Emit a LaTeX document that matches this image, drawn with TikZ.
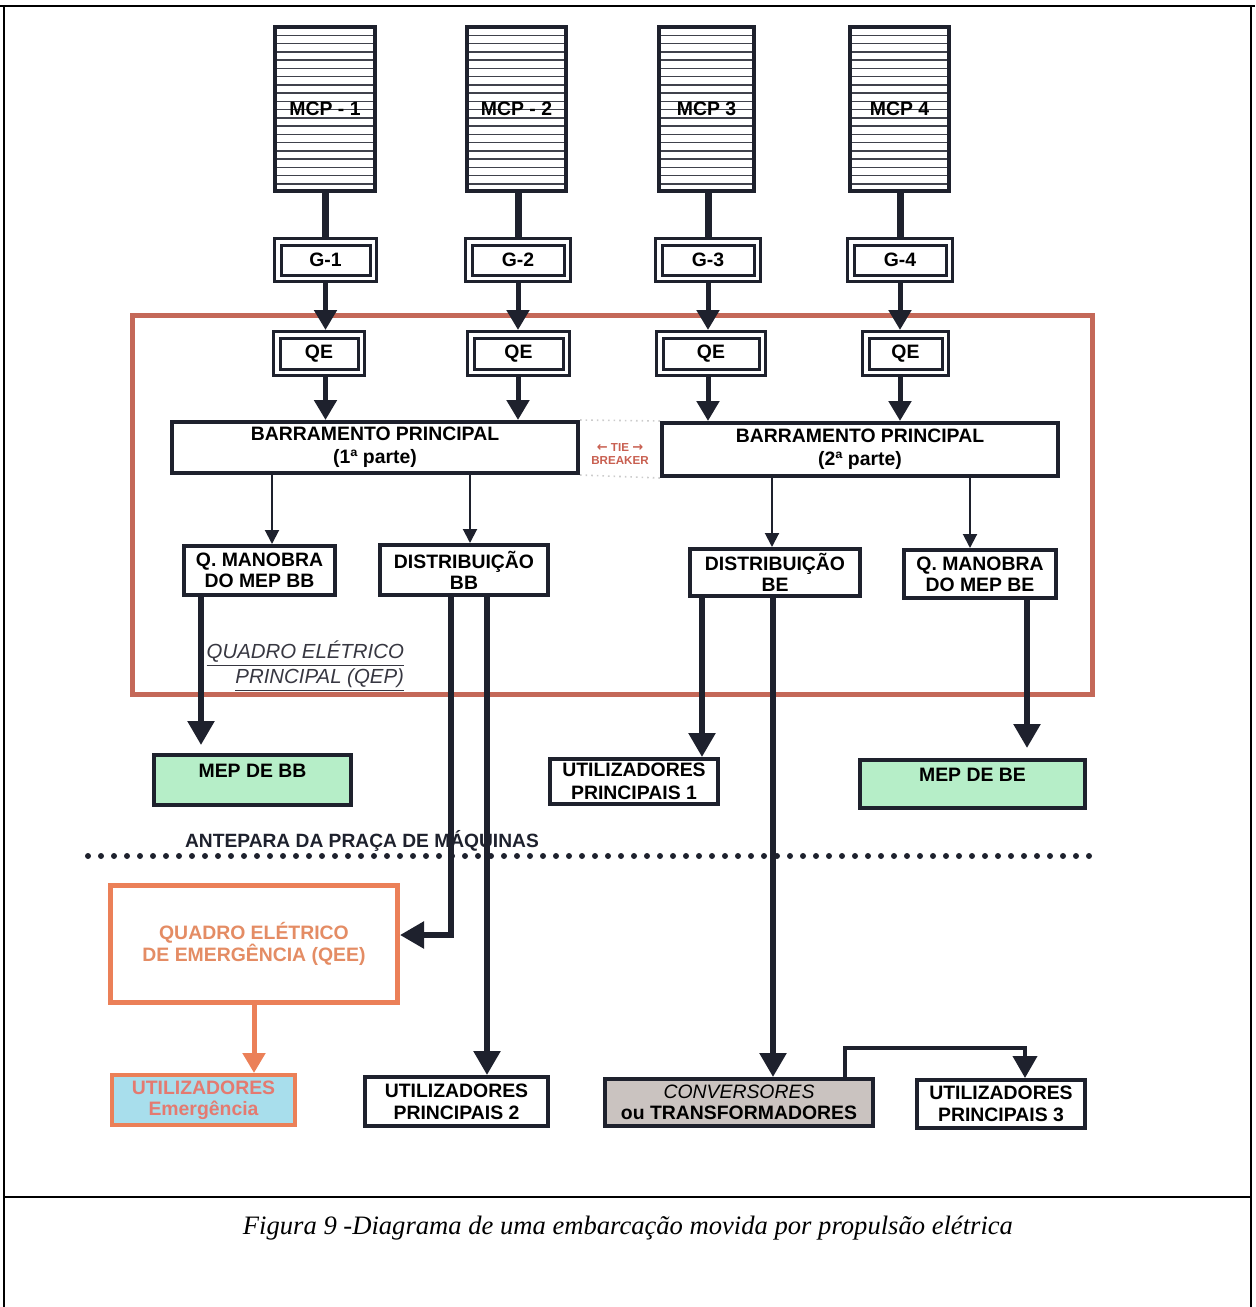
\documentclass[tikz,border=0pt]{standalone}
\usepackage{fontspec}
\setmainfont{Liberation Serif}
\newfontfamily\arialf{Liberation Sans}
\newfontfamily\arrowf{DejaVu Sans}
\usetikzlibrary{arrows.meta}
\definecolor{ink}{RGB}{30,33,45}
\definecolor{qepred}{RGB}{196,104,88}
\definecolor{qeeor}{RGB}{235,128,88}
\definecolor{qeetxt}{RGB}{228,140,100}
\definecolor{emfill}{RGB}{168,222,236}
\definecolor{emtxt}{RGB}{228,122,112}
\definecolor{mepgreen}{RGB}{182,238,200}
\definecolor{convgray}{RGB}{202,195,192}
\definecolor{tiecol}{RGB}{200,95,80}
\definecolor{labgray}{RGB}{55,55,65}
\begin{document}
\begin{tikzpicture}[x=0.5pt,y=-0.5pt,
  sz/.style 2 args={minimum width=#1*0.5pt,minimum height=#2*0.5pt},
  lbl/.style={font=\arialf\bfseries\fontsize{9.7}{11}\selectfont},
  box/.style={draw=ink,line width=2pt,fill=white,inner sep=0pt,align=center,lbl},
  dbox/.style={box,line width=1.5pt,double=white,double distance=1.75pt,outer sep=2.375pt},
  mcp/.style={box,path picture={\foreach \k in {1,...,19}{\draw[ink!85,line width=0.75pt]
      ([yshift=-\k*4.125pt]path picture bounding box.north west) --
      ([yshift=-\k*4.125pt]path picture bounding box.north east);}}},
  wireA/.style={draw=ink,line width=2.5pt,-{Triangle[width=11pt,length=10pt]}},
  wireB/.style={draw=ink,line width=2.75pt,-{Triangle[width=13pt,length=12pt]}},
  thinarrow/.style={draw=ink,line width=1pt,-{Triangle[width=7pt,length=7pt]}}
]
\useasboundingbox (0,0) rectangle (1255,1307);
% page frame
\draw[line width=1pt] (0,6) -- (1255,6);
\draw[line width=1pt] (4,6) -- (4,1307);
\draw[line width=1pt] (1251,6) -- (1251,1307);
\draw[line width=1.2pt] (4,1197) -- (1251,1197);
\node[font=\itshape\fontsize{13.3}{15}\selectfont] (cap) at (628,1228) {Figura 9 -Diagrama de uma embarcação movida por propulsão elétrica};

% QEP frame
\draw[qepred,line width=2.5pt] (132.5,315.5) rectangle (1092.5,694.5);

% bulkhead
\draw[ink,line width=3pt,line cap=round,dash pattern=on 0pt off 6.5pt] (88,856) -- (1100,856);
\node[lbl,text=ink,font=\arialf\bfseries\fontsize{9.6}{11}\selectfont] (ant) at (362,841) {ANTEPARA DA PRAÇA DE MÁQUINAS};

% engines
\node[mcp,sz={100}{164}] (M1) at (325,109) {MCP - 1};
\node[mcp,sz={99}{164}] (M2) at (516.5,109) {MCP - 2};
\node[mcp,sz={95}{164}] (M3) at (706.5,109) {MCP 3};
\node[mcp,sz={99}{164}] (M4) at (899.5,109) {MCP 4};

% generators
\node[dbox,sz={95.5}{36.5}] (G1) at (325.5,260) {G-1};
\node[dbox,sz={98.5}{36.5}] (G2) at (518,260) {G-2};
\node[dbox,sz={98.5}{36.5}] (G3) at (708,260) {G-3};
\node[dbox,sz={98.5}{36.5}] (G4) at (900,260) {G-4};

% QE
\node[dbox,sz={84.5}{37.5}] (Q1) at (319,353.5) {QE};
\node[dbox,sz={95.5}{37.5}] (Q2) at (518.5,353.5) {QE};
\node[dbox,sz={102.5}{37.5}] (Q3) at (711,353.5) {QE};
\node[dbox,sz={79.5}{37.5}] (Q4) at (905.5,353.5) {QE};

% busbars
\node[box,sz={406}{51},font=\arialf\bfseries\fontsize{9.7}{11.5}\selectfont] (B1) at (375,447.5) {BARRAMENTO PRINCIPAL\\(1ª parte)};
\node[box,sz={396}{53},font=\arialf\bfseries\fontsize{9.7}{11.5}\selectfont] (B2) at (860,449.5) {BARRAMENTO PRINCIPAL\\(2ª parte)};
\draw[gray!40,line width=0.8pt,dotted] (B1.north east) -- (B2.north west);
\draw[gray!40,line width=0.8pt,dotted] (B1.south east) -- (B2.south west);
\node[text=tiecol,align=center,font=\arialf\bfseries\fontsize{5.8}{6.6}\selectfont] (TB) at (620,454) {{\arrowf\fontsize{6.5}{6.6}\selectfont ←} TIE {\arrowf\fontsize{6.5}{6.6}\selectfont →}\\BREAKER};

% second level
\node[box,sz={151}{49},font=\arialf\bfseries\fontsize{9.7}{10.2}\selectfont] (QMBB) at (259.5,570.5) {Q. MANOBRA\\DO MEP BB};
\node[box,sz={168}{50},font=\arialf\bfseries\fontsize{9.7}{10.6}\selectfont] (DBB) at (464,570) {DISTRIBUIÇÃO\\BB};
\node[box,sz={170}{47},font=\arialf\bfseries\fontsize{9.7}{10.6}\selectfont] (DBE) at (775,572.5) {DISTRIBUIÇÃO\\BE};
\node[box,sz={152}{48},font=\arialf\bfseries\fontsize{9.7}{10.6}\selectfont] (QMBE) at (980,574) {Q. MANOBRA\\DO MEP BE};

\node[text=labgray,align=right,anchor=east,font=\arialf\itshape\fontsize{10.2}{11.2}\selectfont] (qep) at (411,666) {\underline{QUADRO ELÉTRICO}\\\underline{PRINCIPAL (QEP)}};

% outputs
\node[box,sz={197}{50},fill=mepgreen,text height=7pt,text depth=10pt] (MEPBB) at (252.5,780) {MEP DE BB};
\node[box,sz={168}{45},font=\arialf\bfseries\fontsize{9.7}{11.5}\selectfont] (UP1) at (634,781.5) {UTILIZADORES\\PRINCIPAIS 1};
\node[box,sz={225}{48},fill=mepgreen,text height=7pt,text depth=10pt] (MEPBE) at (972.5,784) {MEP DE BE};

\node[box,draw=qeeor,line width=2.5pt,sz={287}{117},text=qeetxt,font=\arialf\bfseries\fontsize{9.7}{11}\selectfont] (QEE) at (254,944) {QUADRO ELÉTRICO\\DE EMERGÊNCIA (QEE)};
\node[box,draw=qeeor,line width=2pt,fill=emfill,sz={183}{50},text=emtxt,font=\arialf\bfseries\fontsize{9.7}{10.5}\selectfont] (UE) at (203.5,1100) {UTILIZADORES\\Emergência};
\node[box,sz={183}{49},font=\arialf\bfseries\fontsize{9.7}{11}\selectfont] (UP2) at (456.5,1101.5) {UTILIZADORES\\PRINCIPAIS 2};
\node[box,sz={268}{47},fill=convgray,font=\arialf\bfseries\fontsize{9.7}{10.8}\selectfont] (CONV) at (739,1102.5) {{\mdseries\itshape CONVERSORES}\\ou TRANSFORMADORES};
\node[box,sz={168}{48},font=\arialf\bfseries\fontsize{9.7}{11}\selectfont] (UP3) at (1001,1104) {UTILIZADORES\\PRINCIPAIS 3};

% connectors top
\foreach \m/\g in {M1/G1,M2/G2,M3/G3,M4/G4}{
  \draw[ink,line width=3.5pt] (\g.north |- \m.south) -- (\g.north);
}
\foreach \g/\q/\b in {G1/Q1/B1,G2/Q2/B1,G3/Q3/B2,G4/Q4/B2}{
  \draw[wireA] (\g.south) -- (\g.south |- \q.north);
  \draw[wireA] (\g.south |- \q.south) -- (\g.south |- \b.north);
}
\draw[thinarrow] (272,0 |- B1.south) -- (272,0 |- QMBB.north);
\draw[thinarrow] (470,0 |- B1.south) -- (470,0 |- DBB.north);
\draw[thinarrow] (772,0 |- B2.south) -- (772,0 |- DBE.north);
\draw[thinarrow] (970,0 |- B2.south) -- (970,0 |- QMBE.north);

% connectors bottom
\draw[wireB,shorten >=4pt] (201,0 |- QMBB.south) -- (201,0 |- MEPBB.north);
\draw[wireB] (451,0 |- DBB.south) |- (QEE.east |- 0,935);
\draw[wireB] (487,0 |- DBB.south) -- (487,0 |- UP2.north);
\draw[wireB] (702,0 |- DBE.south) -- (702,0 |- UP1.north);
\draw[wireB] (773,0 |- DBE.south) -- (773,0 |- CONV.north);
\draw[wireB,shorten >=5pt] (1027,0 |- QMBE.south) -- (1027,0 |- MEPBE.north);
\coordinate (cbend) at (845,1048);
\draw[draw=ink,line width=2pt,-{Triangle[width=12pt,length=11pt]}] (845,0 |- CONV.north) -- (cbend) -| (1025,0 |- UP3.north);
\draw[draw=qeeor,line width=2.5pt,-{Triangle[width=11pt,length=10pt]}] (QEE.south) -- (QEE.south |- UE.north);
\end{tikzpicture}
\end{document}
